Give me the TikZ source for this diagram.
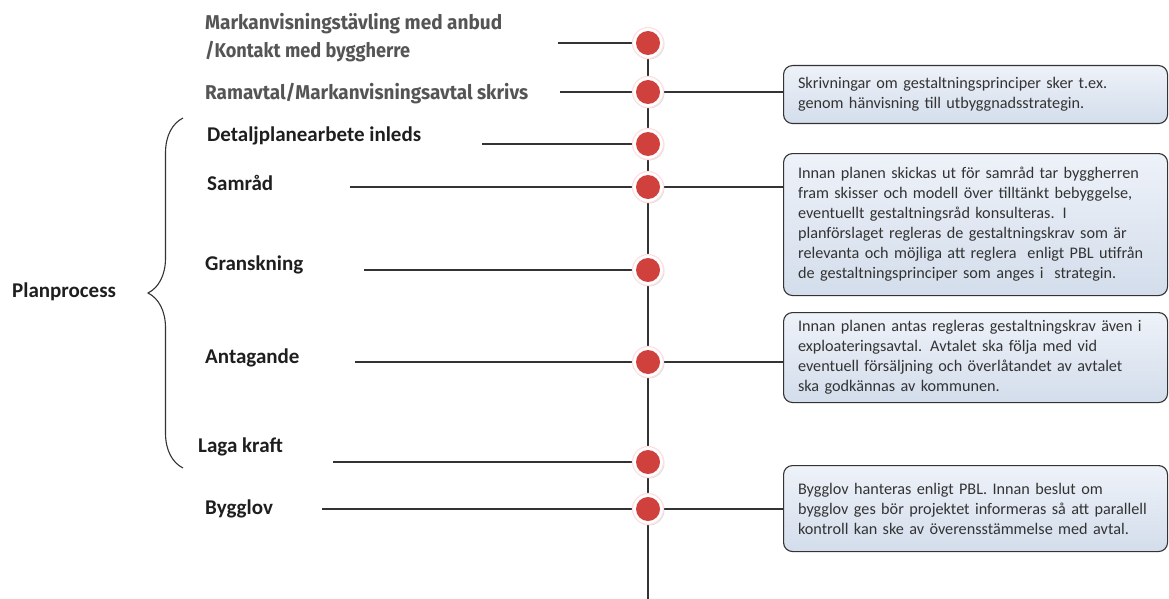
\documentclass[tikz,border=0pt]{standalone}
\usepackage{fontspec}
\setmainfont{Carlito}
\newfontfamily\headfont{Fira Sans}
\usetikzlibrary{decorations.pathreplacing,backgrounds,shadows}
\definecolor{linec}{HTML}{333333}
\definecolor{dotred}{HTML}{D0413E}
\definecolor{boxtop}{HTML}{EEF2F9}
\definecolor{boxbot}{HTML}{D3DDEB}
\definecolor{headgray}{HTML}{555555}
\definecolor{labc}{HTML}{1E1E1E}
\begin{document}
\begin{tikzpicture}[x=1pt,y=-1pt,
  dot/.style={circle, fill=white, draw=red!12, line width=1.2pt, minimum size=31pt, inner sep=0pt,
    drop shadow={opacity=0.25, shadow xshift=1pt, shadow yshift=-1pt},
    path picture={\fill[dotred] (path picture bounding box.center) circle (12pt);}},
  conn/.style={draw=linec, line width=1.2pt},
  infobox/.style={draw=linec, line width=1.1pt, rounded corners=9pt, top color=boxtop, bottom color=boxbot,
    anchor=north west, text width=355pt, align=left, inner xsep=14.5pt, inner ysep=0pt,
    font=\fontsize{16.2}{20}\selectfont, text=linec},
  lab/.style={font=\bfseries\fontsize{21}{24}\selectfont, text=labc, inner sep=0pt, anchor=base west},
  headlab/.style={font=\headfont\bfseries\fontsize{20}{28}\selectfont, text=headgray, inner sep=0pt, anchor=base west}
]
\useasboundingbox (0,0) rectangle (1169,599);

% timeline dots
\node[dot] (c1) at (648,43) {};
\node[dot] (c2) at (648,92) {};
\node[dot] (c3) at (648,144) {};
\node[dot] (c4) at (648,187) {};
\node[dot] (c5) at (648,270) {};
\node[dot] (c6) at (648,362) {};
\node[dot] (c7) at (648,462) {};
\node[dot] (c8) at (648,509) {};
\coordinate (bot) at (648,599);

% free ends of the left connectors
\coordinate (a1) at (558,43);
\coordinate (a2) at (560,92);
\coordinate (a3) at (482,144);
\coordinate (a4) at (350,187);
\coordinate (a5) at (364,270);
\coordinate (a6) at (355,362);
\coordinate (a7) at (333,462);
\coordinate (a8) at (322,509);

% labels
\node[headlab] (l1a) at (205,30) {\resizebox{297pt}{\height}{Markanvisningstävling med anbud}};
\node[headlab] (l1b) at (205,58) {\resizebox{205pt}{\height}{/Kontakt med byggherre}};
\node[headlab] (l2) at (205,100) {\resizebox{323pt}{\height}{Ramavtal/Markanvisningsavtal skrivs}};
\node[lab] (l3) at (207,142) {Detaljplanearbete inleds};
\node[lab] (l4) at (207,190) {Samråd};
\node[lab] (l5) at (205,270) {Granskning};
\node[lab] (l6) at (205,363) {Antagande};
\node[lab] (l7) at (198,452) {Laga kraft};
\node[lab] (l8) at (205,514) {Bygglov};
\node[lab] (pp) at (12,297) {Planprocess};

% info boxes
\node[infobox, minimum height=58pt] (b1) at (783,65)
  {Skrivningar om gestaltningsprinciper sker t.ex.\\genom hänvisning till utbyggnadsstrategin.};
\node[infobox, minimum height=142pt] (b2) at (783,153)
  {Innan planen skickas ut för samråd tar byggherren\\fram skisser och modell över tilltänkt bebyggelse,\\eventuellt gestaltningsråd konsulteras. I\\planförslaget regleras de gestaltningskrav som är\\relevanta och möjliga att reglera \ enligt PBL utifrån\\de gestaltningsprinciper som anges i \ strategin.};
\node[infobox, minimum height=90pt] (b3) at (783,312)
  {Innan planen antas regleras gestaltningskrav även i\\exploateringsavtal. Avtalet ska följa med vid\\eventuell försäljning och överlåtandet av avtalet\\ska godkännas av kommunen.};
\node[infobox, minimum height=86pt] (b4) at (783,465)
  {Bygglov hanteras enligt PBL. Innan beslut om\\bygglov ges bör projektet informeras så att parallell\\kontroll kan ske av överensstämmelse med avtal.};

% connectors behind the dots
\begin{scope}[on background layer]
  \draw[conn] (c1.center) -- (bot);
  \draw[conn] (a1) -- (c1.center);
  \draw[conn] (a2) -- (c2.center);
  \draw[conn] (a3) -- (c3.center);
  \draw[conn] (a4) -- (c4.center);
  \draw[conn] (a5) -- (c5.center);
  \draw[conn] (a6) -- (c6.center);
  \draw[conn] (a7) -- (c7.center);
  \draw[conn] (a8) -- (c8.center);
  \draw[conn] (c2.center) -- (c2.center -| b1.west);
  \draw[conn] (c4.center) -- (c4.center -| b2.west);
  \draw[conn] (c6.center) -- (c6.center -| b3.west);
  \draw[conn] (c8.center) -- (c8.center -| b4.west);
\end{scope}

% brace for the plan process
\draw[linec, line width=1.1pt, decorate, decoration={brace, amplitude=35pt}] (183,468) -- (183,118);
\end{tikzpicture}
\end{document}
